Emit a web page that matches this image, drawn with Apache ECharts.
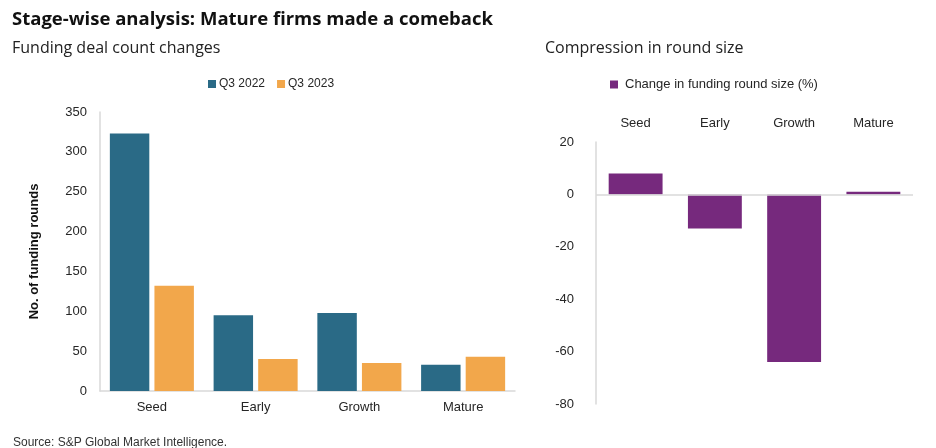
<!DOCTYPE html>
<html><head><meta charset="utf-8">
<script src="https://cdn.jsdelivr.net/npm/echarts@6/dist/echarts.min.js"></script>
<style>html,body{margin:0;padding:0;background:#fff}#c{width:936px;height:448px}</style>
</head><body><div id="c"></div>
<script>
const stages = ['Seed', 'Early', 'Growth', 'Mature'];
const q3_2022 = [323, 95, 98, 33];
const q3_2023 = [132, 40, 35, 43];
const roundSizeChange = [8, -13, -64, 1];
const leftTicks = [0, 50, 100, 150, 200, 250, 300, 350];
const rightTicks = [-80, -60, -40, -20, 0, 20];

const chart = echarts.init(document.getElementById('c'));
const txt = '#262626';
const font = 'Liberation Sans, Arial, sans-serif';
const headFont = '"Open Sans", sans-serif';
const axisGray = '#d9d9d9';
chart.setOption({
  animation: false,
  textStyle: { fontFamily: font },
  title: [
    { text: 'Stage-wise analysis: Mature firms made a comeback', left: 7, top: 5,
      textStyle: { fontFamily: headFont, fontSize: 18.5, fontWeight: 'bold', color: '#111' } },
    { text: 'Funding deal count changes', left: 7, top: 35,
      textStyle: { fontFamily: headFont, fontSize: 16, fontWeight: 'normal', color: '#222' } },
    { text: 'Compression in round size', left: 540, top: 35,
      textStyle: { fontFamily: headFont, fontSize: 16, fontWeight: 'normal', color: '#222' } },
    { text: 'Source: S&P Global Market Intelligence.', left: 8, top: 432,
      textStyle: { fontFamily: font, fontSize: 12, fontWeight: 'normal', color: '#333' } }
  ],
  legend: [
    { data: ['Q3 2022', 'Q3 2023'], left: 203, top: 73, itemWidth: 8, itemHeight: 8, itemGap: 12,
      icon: 'rect', textStyle: { fontSize: 12, color: txt, padding: [0, 0, 0, -2] } },
    { data: ['Change in funding round size (%)'], left: 605, top: 73, itemWidth: 8, itemHeight: 8,
      icon: 'rect', textStyle: { fontSize: 13, color: txt, padding: [0, 0, 0, 2] } }
  ],
  grid: [
    { left: 100, width: 415, top: 112, height: 279 },
    { left: 596, width: 317, top: 142, height: 262 }
  ],
  xAxis: [
    { type: 'category', gridIndex: 0, data: stages,
      axisLine: { lineStyle: { color: axisGray, width: 1.5 } }, axisTick: { show: false },
      axisLabel: { color: txt, fontSize: 13, margin: 10 } },
    { type: 'category', gridIndex: 1, data: stages, position: 'top',
      axisLine: { show: false, onZero: false }, axisTick: { show: false },
      axisLabel: { color: txt, fontSize: 13, margin: 12 } }
  ],
  yAxis: [
    { type: 'value', gridIndex: 0, min: 0, max: 350, interval: 50,
      name: 'No. of funding rounds', nameLocation: 'middle', nameGap: 59,
      nameTextStyle: { fontSize: 13, fontWeight: 'bold', color: '#111' },
      axisLine: { show: true, lineStyle: { color: axisGray, width: 1.5 } }, axisTick: { show: false },
      splitLine: { show: false },
      axisLabel: { color: txt, fontSize: 13, margin: 13,
        formatter: v => leftTicks.includes(v) ? String(v) : '' } },
    { type: 'value', gridIndex: 1, min: -80, max: 20, interval: 20,
      axisLine: { show: true, lineStyle: { color: axisGray, width: 1.5 } }, axisTick: { show: false },
      splitLine: { show: false },
      axisLabel: { color: txt, fontSize: 13, margin: 22,
        formatter: v => rightTicks.includes(v) ? String(v) : '' } }
  ],
  series: [
    { name: 'Q3 2022', type: 'bar', xAxisIndex: 0, yAxisIndex: 0, data: q3_2022,
      itemStyle: { color: '#2a6a86' }, barGap: '13%', barCategoryGap: '19%' },
    { name: 'Q3 2023', type: 'bar', xAxisIndex: 0, yAxisIndex: 0, data: q3_2023,
      itemStyle: { color: '#f2a74b' }, barGap: '13%', barCategoryGap: '19%' },
    { name: 'Change in funding round size (%)', type: 'bar', xAxisIndex: 1, yAxisIndex: 1,
      data: roundSizeChange, itemStyle: { color: '#76297d' }, barCategoryGap: '32%',
      markLine: { silent: true, symbol: 'none', label: { show: false },
        lineStyle: { color: axisGray, width: 1.5, type: 'solid' }, data: [{ yAxis: 0 }] } }
  ]
});
</script></body></html>
